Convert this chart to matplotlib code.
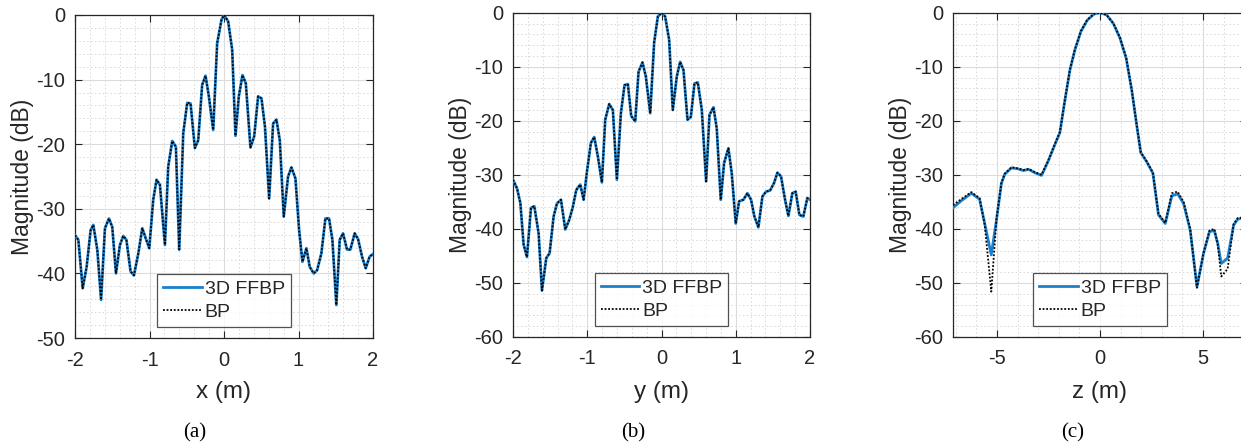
import matplotlib
matplotlib.use("Agg")
import matplotlib.pyplot as plt
from matplotlib.ticker import MultipleLocator

# ---------------- data ----------------
# Panel (a): x cut
x_a = [-2.0, -1.955, -1.897, -1.844, -1.79, -1.754, -1.70, -1.65, -1.598, -1.544, -1.50,
       -1.45, -1.397, -1.352, -1.31, -1.254, -1.209, -1.15, -1.097, -1.05, -1.003, -0.95,
       -0.905, -0.86, -0.793, -0.749, -0.695, -0.646, -0.601, -0.547, -0.494, -0.449,
       -0.391, -0.346, -0.293, -0.248, -0.203, -0.145, -0.092, -0.033, 0.002, 0.056,
       0.11, 0.154, 0.199, 0.248, 0.293, 0.355, 0.405, 0.458, 0.503, 0.55, 0.606, 0.659,
       0.704, 0.749, 0.802, 0.86, 0.905, 0.959, 1.008, 1.053, 1.106, 1.151, 1.204, 1.25,
       1.307, 1.361, 1.41, 1.455, 1.508, 1.553, 1.598, 1.651, 1.696, 1.754, 1.80, 1.853,
       1.902, 1.955, 2.0]
ffbp_a = [-34.1, -34.8, -42.3, -39.0, -33.3, -32.5, -36.4, -44.1, -33.0, -31.5, -32.8,
          -40.0, -35.6, -34.2, -34.8, -39.7, -40.3, -36.9, -33.0, -34.6, -36.1, -28.6,
          -25.5, -26.3, -35.6, -23.5, -19.5, -20.4, -36.3, -18.3, -13.6, -13.7,
          -20.6, -19.4, -10.8, -9.4, -12.6, -17.8, -4.4, -0.7, 0.0, -1.0,
          -5.4, -18.7, -12.6, -9.3, -10.6, -20.5, -18.8, -12.6, -12.9, -17.3, -28.4, -16.8,
          -16.2, -19.4, -31.2, -25.0, -23.6, -25.3, -33.3, -38.2, -36.1, -39.0, -40.0, -39.5,
          -36.9, -31.5, -31.5, -34.8, -44.9, -34.8, -33.8, -36.3, -36.3, -33.8, -34.7, -37.4,
          -39.2, -37.4, -37.0]
bp_a = list(ffbp_a)

# Panel (b): y cut
x_b = [-2.0, -1.946, -1.901, -1.857, -1.812, -1.758, -1.713, -1.655, -1.61, -1.552, -1.507,
       -1.453, -1.408, -1.354, -1.296, -1.242, -1.197, -1.148, -1.094, -1.049, -1.004,
       -0.951, -0.906, -0.857, -0.803, -0.758, -0.704, -0.655, -0.601, -0.547, -0.498,
       -0.453, -0.408, -0.354, -0.309, -0.256, -0.211, -0.152, -0.099, -0.049, 0.004,
       0.049, 0.103, 0.152, 0.206, 0.251, 0.296, 0.35, 0.395, 0.444, 0.489, 0.543, 0.601,
       0.646, 0.70, 0.744, 0.798, 0.843, 0.901, 0.946, 1.0, 1.045, 1.103, 1.157, 1.206,
       1.251, 1.305, 1.359, 1.408, 1.462, 1.516, 1.561, 1.61, 1.664, 1.709, 1.762, 1.807,
       1.857, 1.91, 1.964, 2.0]
ffbp_b = [-30.9, -32.5, -35.2, -42.9, -45.2, -36.1, -35.8, -40.8, -51.4, -45.4, -44.5,
          -37.7, -35.3, -34.6, -40.1, -38.3, -36.1, -32.8, -31.8, -34.6, -29.4,
          -24.1, -23.0, -26.6, -31.4, -19.8, -16.9, -18.0, -30.9, -18.6, -13.4,
          -13.2, -19.1, -20.1, -10.9, -9.2, -11.8, -18.6, -5.5, -0.7, 0.0,
          -0.7, -5.0, -18.0, -11.8, -9.1, -10.6, -19.8, -19.3, -13.1, -12.9, -18.0, -31.2,
          -18.9, -17.5, -21.4, -34.6, -27.8, -25.1, -29.7, -39.0, -34.9, -34.6, -33.4, -34.6,
          -37.7, -39.7, -34.0, -33.1, -32.9, -31.5, -29.6, -30.3, -34.6, -37.6, -33.4, -33.1,
          -37.4, -37.7, -34.3, -34.6]
bp_b = list(ffbp_b)

# Panel (c): z cut
x_c = [-7.14, -6.74, -6.25, -5.85, -5.6, -5.28, -5.03, -4.79, -4.63, -4.3, -3.98, -3.73,
       -3.46, -3.17, -2.84, -2.52, -2.16, -1.95, -1.7, -1.46, -1.22, -0.93, -0.62, -0.29,
       0.0, 0.32, 0.65, 0.97, 1.27, 1.54, 1.79, 1.98, 2.27, 2.57, 2.84, 3.17, 3.49, 3.77,
       4.06, 4.38, 4.71, 5.03, 5.32, 5.55, 5.72, 5.89, 6.2, 6.49, 6.69, 6.9, 7.14]
ffbp_c = [-36.1, -34.8, -33.4, -34.5, -39.0, -44.8, -38.4, -31.6, -29.9, -28.7, -28.9, -29.2,
          -29.0, -29.6, -30.1, -27.5, -24.1, -22.2, -16.1, -10.6, -6.9, -3.5, -1.4, -0.25,
          0.0, -0.4, -2.0, -4.7, -8.4, -14.3, -21.0, -25.9, -27.6, -29.7, -37.4, -39.0, -33.9, -33.5,
          -35.3, -40.2, -50.7, -44.5, -40.5, -40.3, -42.7, -46.4, -45.4, -39.3, -38.2, -38.0, -38.0]
bp_c = [-35.6, -34.5, -33.2, -34.3, -39.2, -51.6, -38.2, -31.5, -29.8, -28.6, -28.8, -29.1,
        -28.9, -29.5, -30.0, -27.4, -24.0, -22.1, -16.0, -10.5, -6.8, -3.4, -1.3, -0.2,
        0.0, -0.4, -2.0, -4.6, -8.3, -14.2, -20.9, -25.8, -27.5, -29.6, -37.2, -38.9, -33.4, -33.1,
        -35.0, -40.0, -50.9, -44.4, -40.3, -40.0, -42.9, -48.8, -47.4, -39.1, -38.0, -37.9, -37.9]

xlabels = ["x (m)", "y (m)", "z (m)"]
captions = ["(a)", "(b)", "(c)"]
legend_labels = ["3D FFBP", "BP"]

# ---------------- style ----------------
W, H = 1241, 445
plt.rcParams['font.family'] = ['Liberation Sans', 'DejaVu Sans']
plt.rcParams['axes.unicode_minus'] = False
fig = plt.figure(figsize=(W / 100, H / 100), dpi=100)
txt = '#262626'
blue = '#1a80cc'

# axes boxes in pixels: left, right, top, bottom
boxes = [(75, 373, 15, 338), (513, 810, 12.7, 337), (953, 1247, 12.7, 337)]
xlims = [(-2, 2), (-2, 2), (-7.14, 7.14)]
ylims = [(-50, 0), (-60, 0), (-60, 0)]
xmaj = [1, 1, 5]
xmin = [0.2, 0.2, 1]
caption_x = [195, 633, 1073]
datasets = [(x_a, ffbp_a, bp_a), (x_b, ffbp_b, bp_b), (x_c, ffbp_c, bp_c)]

for i, (l, r, t, b) in enumerate(boxes):
    ax = fig.add_axes([l / W, 1 - b / H, (r - l) / W, (b - t) / H])
    xs, f, bp = datasets[i]
    ax.plot(xs, f, color=blue, lw=2.0, label=legend_labels[0], zorder=3)
    ax.plot(xs, bp, color='black', lw=1.3, linestyle=(0, (1, 1)), label=legend_labels[1], zorder=4)
    ax.set_xlim(*xlims[i])
    ax.set_ylim(*ylims[i])
    ax.xaxis.set_major_locator(MultipleLocator(xmaj[i]))
    ax.xaxis.set_minor_locator(MultipleLocator(xmin[i]))
    ax.yaxis.set_major_locator(MultipleLocator(10))
    ax.yaxis.set_minor_locator(MultipleLocator(2))
    ax.grid(True, which='major', color='#dcdcdc', lw=0.8, ls='-', zorder=0)
    ax.grid(True, which='minor', color='#d8d8d8', lw=0.7, ls=(0, (1.5, 2.5)), zorder=0)
    ax.set_axisbelow(True)
    ax.tick_params(which='both', direction='in', top=True, right=True, colors=txt,
                   labelsize=14.5, width=0.8)
    ax.tick_params(axis='x', which='major', length=5, pad=9)
    ax.tick_params(axis='y', which='major', length=5, pad=7)
    ax.tick_params(which='minor', length=0)
    for s in ax.spines.values():
        s.set_color(txt)
        s.set_linewidth(0.9)
    ax.set_xlabel(xlabels[i], fontsize=17.5, color=txt, va='center')
    ax.xaxis.set_label_coords(0.5, (b - 392) / (b - t))
    ax.set_ylabel("Magnitude (dB)", fontsize=16.5, color=txt, va='center')
    ax.yaxis.set_label_coords(-52 / (r - l), 0.5)
    leg = ax.legend(loc='lower center', bbox_to_anchor=(0.5, 11 / (b - t)), fontsize=14,
                    frameon=True, fancybox=False, handlelength=2.0, handletextpad=0.15,
                    borderpad=0.3, labelspacing=0.3, borderaxespad=0)
    leg.get_frame().set_edgecolor(txt)
    leg.get_frame().set_linewidth(0.9)
    for tx in leg.get_texts():
        tx.set_color(txt)
    fig.text(caption_x[i] / W, 1 - 433 / H, captions[i], ha='center', va='center',
             fontsize=15, family=['Liberation Serif', 'DejaVu Serif'], color='black')

fig.savefig('out.png', dpi=100)
